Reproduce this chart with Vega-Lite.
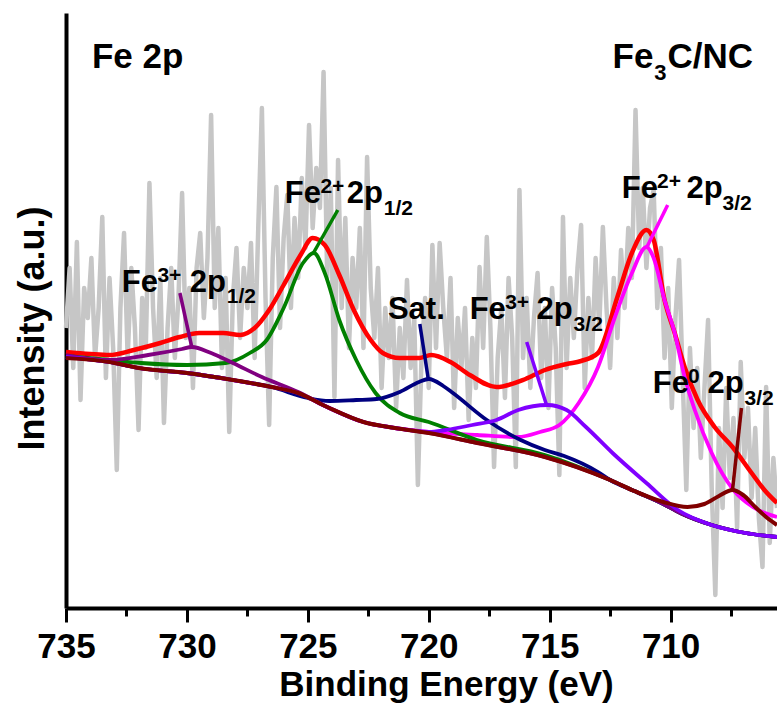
{
  "$schema": "https://vega.github.io/schema/vega-lite/v6.json",
  "width": 711,
  "height": 595,
  "autosize": {"type": "none"},
  "padding": {"left": 66, "top": 13, "right": 0, "bottom": 96},
  "background": "white",
  "config": {"view": {"stroke": null}, "font": "Liberation Sans"},
  "datasets": {
    "raw": [
      {"eV":735.00,"I":280},{"eV":734.85,"I":340},{"eV":734.70,"I":240},{"eV":734.55,"I":366},{"eV":734.40,"I":208},{"eV":734.25,"I":320},{"eV":734.10,"I":290},{"eV":733.95,"I":350},{"eV":733.80,"I":250},{"eV":733.65,"I":300},
      {"eV":733.50,"I":391},{"eV":733.35,"I":230},{"eV":733.20,"I":330},{"eV":733.05,"I":260},{"eV":732.90,"I":138},{"eV":732.75,"I":300},{"eV":732.60,"I":375},{"eV":732.45,"I":250},{"eV":732.30,"I":340},{"eV":732.15,"I":280},
      {"eV":732.00,"I":178},{"eV":731.85,"I":310},{"eV":731.70,"I":260},{"eV":731.55,"I":425},{"eV":731.40,"I":300},{"eV":731.25,"I":230},{"eV":731.10,"I":330},{"eV":730.95,"I":185},{"eV":730.80,"I":280},{"eV":730.65,"I":340},
      {"eV":730.50,"I":250},{"eV":730.35,"I":310},{"eV":730.20,"I":415},{"eV":730.05,"I":270},{"eV":729.90,"I":320},{"eV":729.75,"I":220},{"eV":729.60,"I":340},{"eV":729.45,"I":375},{"eV":729.30,"I":290},{"eV":729.15,"I":350},
      {"eV":729.00,"I":493},{"eV":728.85,"I":300},{"eV":728.70,"I":380},{"eV":728.55,"I":240},{"eV":728.40,"I":330},{"eV":728.25,"I":176},{"eV":728.10,"I":310},{"eV":727.95,"I":360},{"eV":727.80,"I":270},{"eV":727.65,"I":340},
      {"eV":727.50,"I":300},{"eV":727.35,"I":365},{"eV":727.20,"I":250},{"eV":727.05,"I":380},{"eV":726.90,"I":500},{"eV":726.75,"I":310},{"eV":726.60,"I":183},{"eV":726.45,"I":350},{"eV":726.30,"I":421},{"eV":726.15,"I":280},
      {"eV":726.00,"I":370},{"eV":725.85,"I":413},{"eV":725.70,"I":300},{"eV":725.55,"I":390},{"eV":725.40,"I":330},{"eV":725.25,"I":430},{"eV":725.10,"I":360},{"eV":724.95,"I":483},{"eV":724.80,"I":380},{"eV":724.65,"I":440},
      {"eV":724.50,"I":400},{"eV":724.35,"I":536},{"eV":724.20,"I":330},{"eV":724.05,"I":420},{"eV":723.90,"I":211},{"eV":723.75,"I":448},{"eV":723.60,"I":300},{"eV":723.45,"I":390},{"eV":723.30,"I":260},{"eV":723.15,"I":350},
      {"eV":723.00,"I":300},{"eV":722.85,"I":380},{"eV":722.70,"I":260},{"eV":722.55,"I":451},{"eV":722.40,"I":320},{"eV":722.25,"I":270},{"eV":722.10,"I":340},{"eV":721.95,"I":220},{"eV":721.80,"I":300},{"eV":721.65,"I":250},
      {"eV":721.50,"I":310},{"eV":721.35,"I":200},{"eV":721.20,"I":280},{"eV":721.05,"I":230},{"eV":720.90,"I":328},{"eV":720.75,"I":240},{"eV":720.60,"I":290},{"eV":720.45,"I":123},{"eV":720.30,"I":250},{"eV":720.15,"I":310},
      {"eV":720.00,"I":220},{"eV":719.85,"I":363},{"eV":719.70,"I":260},{"eV":719.55,"I":365},{"eV":719.40,"I":300},{"eV":719.25,"I":250},{"eV":719.10,"I":330},{"eV":718.95,"I":200},{"eV":718.80,"I":290},{"eV":718.65,"I":240},
      {"eV":718.50,"I":300},{"eV":718.35,"I":188},{"eV":718.20,"I":270},{"eV":718.05,"I":220},{"eV":717.90,"I":341},{"eV":717.75,"I":260},{"eV":717.60,"I":371},{"eV":717.45,"I":280},{"eV":717.30,"I":141},{"eV":717.15,"I":250},
      {"eV":717.00,"I":300},{"eV":716.85,"I":210},{"eV":716.70,"I":330},{"eV":716.55,"I":270},{"eV":716.40,"I":141},{"eV":716.25,"I":418},{"eV":716.10,"I":250},{"eV":715.95,"I":310},{"eV":715.80,"I":220},{"eV":715.65,"I":290},
      {"eV":715.50,"I":335},{"eV":715.35,"I":230},{"eV":715.20,"I":300},{"eV":715.05,"I":200},{"eV":714.90,"I":320},{"eV":714.75,"I":260},{"eV":714.60,"I":133},{"eV":714.45,"I":391},{"eV":714.30,"I":240},{"eV":714.15,"I":330},
      {"eV":714.00,"I":270},{"eV":713.85,"I":340},{"eV":713.70,"I":383},{"eV":713.55,"I":220},{"eV":713.40,"I":310},{"eV":713.25,"I":250},{"eV":713.10,"I":350},{"eV":712.95,"I":280},{"eV":712.80,"I":381},{"eV":712.65,"I":300},
      {"eV":712.50,"I":240},{"eV":712.35,"I":330},{"eV":712.20,"I":270},{"eV":712.05,"I":358},{"eV":711.90,"I":300},{"eV":711.75,"I":380},{"eV":711.60,"I":330},{"eV":711.45,"I":498},{"eV":711.30,"I":360},{"eV":711.15,"I":420},
      {"eV":711.00,"I":340},{"eV":710.85,"I":400},{"eV":710.70,"I":418},{"eV":710.55,"I":300},{"eV":710.40,"I":360},{"eV":710.25,"I":250},{"eV":710.10,"I":320},{"eV":709.95,"I":200},{"eV":709.80,"I":290},{"eV":709.65,"I":348},
      {"eV":709.50,"I":230},{"eV":709.35,"I":118},{"eV":709.20,"I":260},{"eV":709.05,"I":180},{"eV":708.90,"I":240},{"eV":708.75,"I":150},{"eV":708.60,"I":220},{"eV":708.45,"I":288},{"eV":708.30,"I":120},{"eV":708.15,"I":13},
      {"eV":708.00,"I":180},{"eV":707.85,"I":100},{"eV":707.70,"I":220},{"eV":707.55,"I":130},{"eV":707.40,"I":190},{"eV":707.25,"I":80},{"eV":707.10,"I":246},{"eV":706.95,"I":150},{"eV":706.80,"I":200},{"eV":706.65,"I":110},
      {"eV":706.50,"I":180},{"eV":706.35,"I":90},{"eV":706.20,"I":41},{"eV":706.05,"I":221},{"eV":705.90,"I":65},{"eV":705.75,"I":150},{"eV":705.60,"I":100}
    ],
    "fit": [
      {"s":"red","eV":735.0,"I":256},{"s":"red","eV":734.0,"I":254},{"s":"red","eV":733.2,"I":253},{"s":"red","eV":732.2,"I":258},{"s":"red","eV":731.1,"I":265},{"s":"red","eV":730.3,"I":271},{"s":"red","eV":729.5,"I":275},{"s":"red","eV":728.5,"I":275},{"s":"red","eV":727.8,"I":273},{"s":"red","eV":727.2,"I":280},{"s":"red","eV":726.6,"I":298},{"s":"red","eV":726.0,"I":323},{"s":"red","eV":725.3,"I":353},{"s":"red","eV":724.8,"I":370},{"s":"red","eV":724.3,"I":363},{"s":"red","eV":723.7,"I":333},{"s":"red","eV":723.1,"I":298},{"s":"red","eV":722.4,"I":268},{"s":"red","eV":721.9,"I":255},{"s":"red","eV":721.2,"I":250},{"s":"red","eV":720.4,"I":250},{"s":"red","eV":719.9,"I":253},{"s":"red","eV":719.1,"I":246},{"s":"red","eV":718.3,"I":233},{"s":"red","eV":717.2,"I":221},{"s":"red","eV":716.0,"I":229},{"s":"red","eV":715.2,"I":238},{"s":"red","eV":714.3,"I":244},{"s":"red","eV":713.7,"I":247},{"s":"red","eV":713.0,"I":255},{"s":"red","eV":712.2,"I":311},{"s":"red","eV":711.6,"I":355},{"s":"red","eV":711.0,"I":378},{"s":"red","eV":710.7,"I":368},{"s":"red","eV":710.25,"I":308},{"s":"red","eV":709.83,"I":275},{"s":"red","eV":709.42,"I":241},{"s":"red","eV":708.88,"I":208},{"s":"red","eV":708.18,"I":181},{"s":"red","eV":707.44,"I":161},{"s":"red","eV":706.65,"I":135},{"s":"red","eV":706.12,"I":118},{"s":"red","eV":705.6,"I":105},

      {"s":"magenta","eV":735.0,"I":251},{"s":"magenta","eV":733.2,"I":246},{"s":"magenta","eV":732.0,"I":240},{"s":"magenta","eV":730.0,"I":235},{"s":"magenta","eV":728.1,"I":228},{"s":"magenta","eV":726.5,"I":221},{"s":"magenta","eV":725.4,"I":215},{"s":"magenta","eV":724.2,"I":201},{"s":"magenta","eV":722.7,"I":186},{"s":"magenta","eV":721.4,"I":180},{"s":"magenta","eV":720.0,"I":176},{"s":"magenta","eV":718.0,"I":173},{"s":"magenta","eV":716.3,"I":171},{"s":"magenta","eV":715.4,"I":176},{"s":"magenta","eV":714.6,"I":183},{"s":"magenta","eV":713.8,"I":205},{"s":"magenta","eV":713.0,"I":241},{"s":"magenta","eV":712.3,"I":291},{"s":"magenta","eV":711.6,"I":335},{"s":"magenta","eV":711.0,"I":361},{"s":"magenta","eV":710.7,"I":350},{"s":"magenta","eV":710.25,"I":308},{"s":"magenta","eV":709.83,"I":275},{"s":"magenta","eV":709.42,"I":231},{"s":"magenta","eV":709.0,"I":198},{"s":"magenta","eV":708.3,"I":155},{"s":"magenta","eV":707.4,"I":118},{"s":"magenta","eV":706.6,"I":101},{"s":"magenta","eV":705.6,"I":91},

      {"s":"green","eV":735.0,"I":252},{"s":"green","eV":733.2,"I":248},{"s":"green","eV":731.9,"I":245},{"s":"green","eV":730.0,"I":243},{"s":"green","eV":728.4,"I":245},{"s":"green","eV":727.4,"I":255},{"s":"green","eV":726.7,"I":268},{"s":"green","eV":726.0,"I":300},{"s":"green","eV":725.2,"I":345},{"s":"green","eV":724.75,"I":355},{"s":"green","eV":724.3,"I":335},{"s":"green","eV":723.7,"I":288},{"s":"green","eV":723.0,"I":248},{"s":"green","eV":722.2,"I":215},{"s":"green","eV":721.2,"I":195},{"s":"green","eV":720.0,"I":186},{"s":"green","eV":718.0,"I":168},{"s":"green","eV":715.2,"I":153},{"s":"green","eV":712.5,"I":128},{"s":"green","eV":711.5,"I":117},{"s":"green","eV":710.3,"I":104},{"s":"green","eV":709.6,"I":95},{"s":"green","eV":708.3,"I":83},{"s":"green","eV":706.9,"I":75},{"s":"green","eV":705.6,"I":71},

      {"s":"navy","eV":735.0,"I":251},{"s":"navy","eV":733.2,"I":246},{"s":"navy","eV":732.0,"I":240},{"s":"navy","eV":730.0,"I":235},{"s":"navy","eV":728.1,"I":228},{"s":"navy","eV":726.5,"I":221},{"s":"navy","eV":725.0,"I":210},{"s":"navy","eV":724.1,"I":207},{"s":"navy","eV":723.0,"I":208},{"s":"navy","eV":722.15,"I":209},{"s":"navy","eV":721.2,"I":216},{"s":"navy","eV":720.4,"I":226},{"s":"navy","eV":720.0,"I":229},{"s":"navy","eV":719.4,"I":222},{"s":"navy","eV":719.0,"I":215},{"s":"navy","eV":717.6,"I":188},{"s":"navy","eV":716.2,"I":168},{"s":"navy","eV":715.2,"I":158},{"s":"navy","eV":714.4,"I":152},{"s":"navy","eV":713.0,"I":136},{"s":"navy","eV":712.5,"I":128},{"s":"navy","eV":711.5,"I":117},{"s":"navy","eV":710.3,"I":104},{"s":"navy","eV":709.6,"I":95},{"s":"navy","eV":708.3,"I":83},{"s":"navy","eV":706.9,"I":75},{"s":"navy","eV":705.6,"I":71},

      {"s":"purple","eV":735.0,"I":253},{"s":"purple","eV":733.2,"I":248},{"s":"purple","eV":731.6,"I":253},{"s":"purple","eV":730.2,"I":259},{"s":"purple","eV":729.8,"I":261},{"s":"purple","eV":729.0,"I":255},{"s":"purple","eV":728.1,"I":245},{"s":"purple","eV":726.9,"I":231},{"s":"purple","eV":725.4,"I":216},{"s":"purple","eV":724.2,"I":201},{"s":"purple","eV":722.7,"I":186},{"s":"purple","eV":721.4,"I":180},{"s":"purple","eV":720.0,"I":175},{"s":"purple","eV":718.0,"I":165},{"s":"purple","eV":715.2,"I":151},{"s":"purple","eV":712.5,"I":128},{"s":"purple","eV":711.5,"I":117},{"s":"purple","eV":710.3,"I":104},{"s":"purple","eV":709.6,"I":95},{"s":"purple","eV":708.3,"I":83},{"s":"purple","eV":706.9,"I":75},{"s":"purple","eV":705.6,"I":71},

      {"s":"violet","eV":735.0,"I":251},{"s":"violet","eV":733.2,"I":246},{"s":"violet","eV":732.0,"I":240},{"s":"violet","eV":730.0,"I":235},{"s":"violet","eV":728.1,"I":228},{"s":"violet","eV":726.5,"I":221},{"s":"violet","eV":725.4,"I":215},{"s":"violet","eV":724.2,"I":201},{"s":"violet","eV":722.7,"I":186},{"s":"violet","eV":721.4,"I":180},{"s":"violet","eV":720.0,"I":176},{"s":"violet","eV":719.3,"I":178},{"s":"violet","eV":718.2,"I":183},{"s":"violet","eV":717.2,"I":188},{"s":"violet","eV":716.3,"I":198},{"s":"violet","eV":715.1,"I":203},{"s":"violet","eV":714.3,"I":198},{"s":"violet","eV":713.5,"I":181},{"s":"violet","eV":712.4,"I":155},{"s":"violet","eV":711.0,"I":125},{"s":"violet","eV":709.7,"I":98},{"s":"violet","eV":708.3,"I":83},{"s":"violet","eV":706.9,"I":75},{"s":"violet","eV":705.6,"I":71},

      {"s":"brown","eV":735.0,"I":250},{"s":"brown","eV":733.2,"I":246},{"s":"brown","eV":732.0,"I":240},{"s":"brown","eV":730.0,"I":235},{"s":"brown","eV":728.1,"I":228},{"s":"brown","eV":726.5,"I":221},{"s":"brown","eV":725.4,"I":215},{"s":"brown","eV":724.2,"I":201},{"s":"brown","eV":722.7,"I":186},{"s":"brown","eV":721.4,"I":180},{"s":"brown","eV":720.0,"I":175},{"s":"brown","eV":718.0,"I":165},{"s":"brown","eV":715.2,"I":151},{"s":"brown","eV":712.5,"I":128},{"s":"brown","eV":711.5,"I":117},{"s":"brown","eV":710.3,"I":106},{"s":"brown","eV":709.3,"I":101},{"s":"brown","eV":708.6,"I":104},{"s":"brown","eV":708.0,"I":112},{"s":"brown","eV":707.44,"I":118},{"s":"brown","eV":707.0,"I":113},{"s":"brown","eV":706.5,"I":101},{"s":"brown","eV":706.0,"I":90},{"s":"brown","eV":705.6,"I":83}
    ],
    "lead": [
      {"s":"purple","eV":730.29,"I":315,"eV2":729.79,"I2":260},
      {"s":"green","eV":723.76,"I":398,"eV2":724.77,"I2":355},
      {"s":"navy","eV":720.37,"I":284,"eV2":720.02,"I2":229},
      {"s":"violet","eV":715.95,"I":266,"eV2":715.13,"I2":203},
      {"s":"magenta","eV":710.12,"I":403,"eV2":710.98,"I2":361},
      {"s":"brown","eV":707.07,"I":200,"eV2":707.44,"I2":118}
    ],
    "lab": [
      {"k":"big","t":"Fe 2p","eV":733.93,"I":540},
      {"k":"big","t":"Fe","eV":712.40,"I":540},
      {"k":"bigsub","t":"3","eV":710.68,"I":528},
      {"k":"big","t":"C/NC","eV":710.13,"I":540},

      {"k":"main","t":"Fe","eV":732.69,"I":316},
      {"k":"sup","t":"3+","eV":731.22,"I":326},
      {"k":"main","t":"2p","eV":729.88,"I":316},
      {"k":"sub","t":"1/2","eV":728.35,"I":305},

      {"k":"main","t":"Fe","eV":725.95,"I":405},
      {"k":"sup","t":"2+","eV":724.48,"I":415},
      {"k":"main","t":"2p","eV":723.39,"I":405},
      {"k":"sub","t":"1/2","eV":721.86,"I":393},

      {"k":"main","t":"Sat.","eV":721.69,"I":289},

      {"k":"main","t":"Fe","eV":718.31,"I":289},
      {"k":"sup","t":"3+","eV":716.84,"I":299},
      {"k":"main","t":"2p","eV":715.54,"I":289},
      {"k":"sub","t":"3/2","eV":714.01,"I":277},

      {"k":"main","t":"Fe","eV":712.02,"I":410},
      {"k":"sup","t":"2+","eV":710.56,"I":420},
      {"k":"main","t":"2p","eV":709.34,"I":410},
      {"k":"sub","t":"3/2","eV":707.85,"I":398},

      {"k":"main","t":"Fe","eV":710.74,"I":215},
      {"k":"sup","t":"0","eV":709.28,"I":225},
      {"k":"main","t":"2p","eV":708.47,"I":215},
      {"k":"sub","t":"3/2","eV":706.94,"I":203}
    ]
  },
  "encoding": {
    "x": {
      "field": "eV",
      "type": "quantitative",
      "scale": {"domain": [705.6, 735], "reverse": true, "nice": false, "zero": false},
      "axis": {
        "title": "Binding Energy (eV)",
        "values": [735, 732.5, 730, 727.5, 725, 722.5, 720, 717.5, 715, 712.5, 710, 707.5],
        "labelExpr": "datum.value % 5 === 0 ? datum.label : ''",
        "tickSize": {"condition": {"test": "datum.value % 5 === 0", "value": 14}, "value": 8},
        "tickWidth": 3,
        "tickColor": "black",
        "domainColor": "black",
        "domainWidth": 4,
        "grid": false,
        "labelFont": "Liberation Sans",
        "labelFontSize": 35,
        "labelFontWeight": "bold",
        "labelColor": "black",
        "labelPadding": 7,
        "labelOverlap": false,
        "labelFlush": false,
        "titleFont": "Liberation Sans",
        "titleFontSize": 35,
        "titleFontWeight": "bold",
        "titleColor": "black",
        "titlePadding": 3,
        "titleX": 380
      }
    },
    "y": {
      "field": "I",
      "type": "quantitative",
      "scale": {"domain": [0, 595], "nice": false, "zero": false},
      "axis": {
        "title": "Intensity (a.u.)",
        "ticks": false,
        "labels": false,
        "grid": false,
        "domainColor": "black",
        "domainWidth": 4,
        "titleFont": "Liberation Sans",
        "titleFontSize": 36,
        "titleFontWeight": "bold",
        "titleColor": "black",
        "titlePadding": 15,
        "titleY": 315
      }
    }
  },
  "layer": [
    {"data": {"name": "raw"}, "mark": {"type": "line", "color": "#c6c6c6", "strokeWidth": 4.5, "strokeJoin": "round"}, "encoding": {}},
    {"data": {"name": "fit"}, "transform": [{"filter": "datum.s === 'red'"}], "mark": {"type": "line", "color": "#ff0000", "strokeWidth": 4.5, "interpolate": "monotone"}, "encoding": {}},
    {"data": {"name": "fit"}, "transform": [{"filter": "datum.s === 'magenta'"}], "mark": {"type": "line", "color": "#ff00ff", "strokeWidth": 3.8, "interpolate": "monotone"}, "encoding": {}},
    {"data": {"name": "fit"}, "transform": [{"filter": "datum.s === 'green'"}], "mark": {"type": "line", "color": "#008000", "strokeWidth": 3.8, "interpolate": "monotone"}, "encoding": {}},
    {"data": {"name": "fit"}, "transform": [{"filter": "datum.s === 'navy'"}], "mark": {"type": "line", "color": "#000080", "strokeWidth": 3.8, "interpolate": "monotone"}, "encoding": {}},
    {"data": {"name": "fit"}, "transform": [{"filter": "datum.s === 'purple'"}], "mark": {"type": "line", "color": "#800080", "strokeWidth": 3.8, "interpolate": "monotone"}, "encoding": {}},
    {"data": {"name": "fit"}, "transform": [{"filter": "datum.s === 'violet'"}], "mark": {"type": "line", "color": "#8000ff", "strokeWidth": 3.8, "interpolate": "monotone"}, "encoding": {}},
    {"data": {"name": "fit"}, "transform": [{"filter": "datum.s === 'brown'"}], "mark": {"type": "line", "color": "#800000", "strokeWidth": 4, "interpolate": "monotone"}, "encoding": {}},
    {
      "data": {"name": "lead"},
      "mark": {"type": "rule", "strokeWidth": 3.5},
      "encoding": {
        "x2": {"field": "eV2"},
        "y2": {"field": "I2"},
        "color": {
          "field": "s",
          "type": "nominal",
          "scale": {"domain": ["purple", "green", "navy", "violet", "magenta", "brown"], "range": ["#800080", "#008000", "#000080", "#8000ff", "#ff00ff", "#800000"]},
          "legend": null
        }
      }
    },
    {"data": {"name": "lab"}, "transform": [{"filter": "datum.k === 'big'"}], "mark": {"type": "text", "align": "left", "baseline": "alphabetic", "font": "Liberation Sans", "fontSize": 35, "fontWeight": "bold", "color": "black"}, "encoding": {"text": {"field": "t"}}},
    {"data": {"name": "lab"}, "transform": [{"filter": "datum.k === 'bigsub'"}], "mark": {"type": "text", "align": "left", "baseline": "alphabetic", "font": "Liberation Sans", "fontSize": 22, "fontWeight": "bold", "color": "black"}, "encoding": {"text": {"field": "t"}}},
    {"data": {"name": "lab"}, "transform": [{"filter": "datum.k === 'main'"}], "mark": {"type": "text", "align": "left", "baseline": "alphabetic", "font": "Liberation Sans", "fontSize": 31, "fontWeight": "bold", "color": "black"}, "encoding": {"text": {"field": "t"}}},
    {"data": {"name": "lab"}, "transform": [{"filter": "datum.k === 'sup' || datum.k === 'sub'"}], "mark": {"type": "text", "align": "left", "baseline": "alphabetic", "font": "Liberation Sans", "fontSize": 21, "fontWeight": "bold", "color": "black"}, "encoding": {"text": {"field": "t"}}}
  ]
}
